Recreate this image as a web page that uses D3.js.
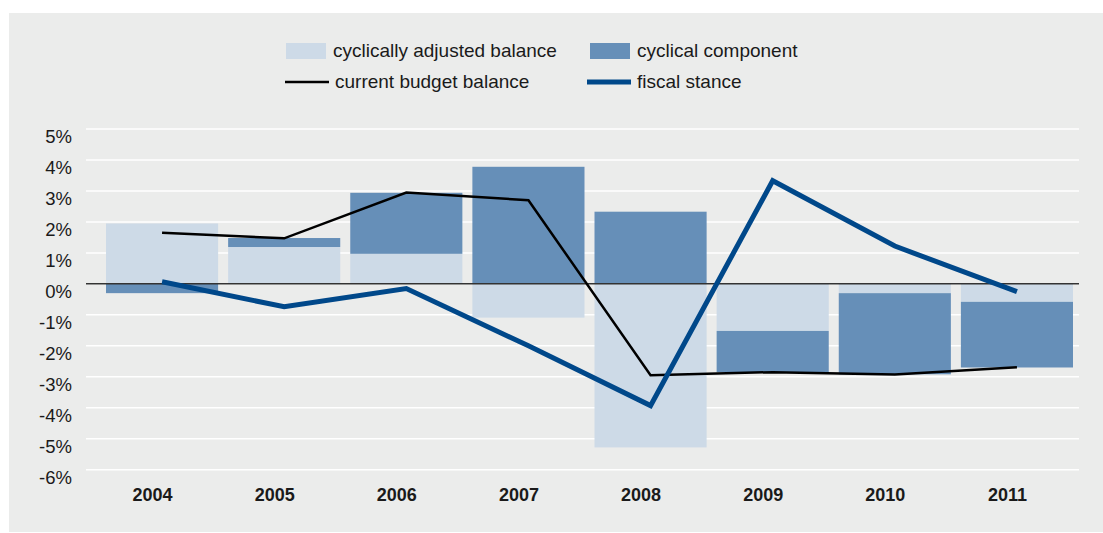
<!DOCTYPE html>
<html>
<head>
<meta charset="utf-8">
<script src="https://cdn.jsdelivr.net/npm/d3@7"></script>
<style>
  html, body { margin: 0; padding: 0; background: #ffffff; }
  svg { display: block; }
  text { font-family: "Liberation Sans", Arial, Helvetica, sans-serif; fill: #1a1a1a; }
</style>
</head>
<body>
<svg id="chart" width="1103" height="533"></svg>
<script>
// Budget balance decomposition, % of GDP
const years = ["2004", "2005", "2006", "2007", "2008", "2009", "2010", "2011"];
const cyclicallyAdjusted = [1.95, 1.19, 0.97, -1.09, -5.28, -1.52, -0.30, -0.58];
const cyclicalComponent = [-0.30, 0.29, 1.97, 3.78, 2.33, -1.33, -2.62, -2.12];
const currentBudget = [1.65, 1.47, 2.95, 2.70, -2.95, -2.85, -2.93, -2.69];
const fiscalStance = [0.07, -0.74, -0.15, -2.00, -3.93, 3.33, 1.22, -0.25];
const yTicks = [5, 4, 3, 2, 1, 0, -1, -2, -3, -4, -5, -6];

const colors = {
  panel: "#ebeceb",
  cab: "#cddae7",
  cc: "#668fb8",
  cbb: "#000000",
  fiscal: "#00488a",
  zero: "#333333"
};

const svg = d3.select("#chart");

// grey panel
svg.append("rect")
  .attr("x", 9).attr("y", 13)
  .attr("width", 1094).attr("height", 519)
  .attr("fill", colors.panel);

const x = d3.scaleBand()
  .domain(years)
  .range([101, 1078])
  .paddingInner(0.082)
  .paddingOuter(0.041);

const y = d3.scaleLinear()
  .domain([-6, 5])
  .range([469.7, 129]);

const gridX0 = 86, gridX1 = 1079;

// horizontal grid
svg.append("g")
  .selectAll("line")
  .data(yTicks)
  .join("line")
  .attr("x1", gridX0).attr("x2", gridX1)
  .attr("y1", d => y(d)).attr("y2", d => y(d))
  .attr("stroke", "#ffffff")
  .attr("stroke-width", 1.5);

// y axis labels
const yAxis = d3.axisLeft(y)
  .tickValues(yTicks)
  .tickSize(0)
  .tickPadding(0)
  .tickFormat(d => d + "%");
const gy = svg.append("g")
  .attr("transform", "translate(72,0)")
  .call(yAxis);
gy.select(".domain").remove();
gy.selectAll("text")
  .attr("dy", null)
  .attr("y", 13.6)
  .style("font-size", "18.5px")
  .style("font-family", "\"Liberation Sans\", Arial, sans-serif")
  .attr("fill", "#1a1a1a");

// x axis labels
const xAxis = d3.axisBottom(x).tickSize(0).tickPadding(0);
const gx = svg.append("g")
  .attr("transform", "translate(-9.5,501)")
  .call(xAxis);
gx.select(".domain").remove();
gx.selectAll("text")
  .attr("dy", null)
  .attr("y", 0)
  .style("font-size", "18px")
  .style("font-weight", "bold")
  .style("font-family", "\"Liberation Sans\", Arial, sans-serif")
  .attr("fill", "#111111");

// stacked bars
const rows = years.map((yr, i) => ({
  year: yr,
  cab: cyclicallyAdjusted[i],
  cc: cyclicalComponent[i]
}));
const stack = d3.stack()
  .keys(["cab", "cc"])
  .offset(d3.stackOffsetDiverging);
const series = stack(rows);

svg.append("g")
  .selectAll("g")
  .data(series)
  .join("g")
  .attr("fill", d => colors[d.key])
  .selectAll("rect")
  .data(d => d)
  .join("rect")
  .attr("x", d => x(d.data.year))
  .attr("width", x.bandwidth())
  .attr("y", d => y(Math.max(d[0], d[1])))
  .attr("height", d => Math.abs(y(d[0]) - y(d[1])));

// zero line
svg.append("line")
  .attr("x1", gridX0).attr("x2", gridX1)
  .attr("y1", y(0)).attr("y2", y(0))
  .attr("stroke", colors.zero)
  .attr("stroke-width", 1.5);

const cx = yr => x(yr) + x.bandwidth() / 2;

// current budget balance
svg.append("path")
  .datum(currentBudget)
  .attr("fill", "none")
  .attr("stroke", colors.cbb)
  .attr("stroke-width", 2.5)
  .attr("d", d3.line().x((d, i) => cx(years[i])).y(d => y(d)));

// fiscal stance
svg.append("path")
  .datum(fiscalStance)
  .attr("fill", "none")
  .attr("stroke", colors.fiscal)
  .attr("stroke-width", 5)
  .attr("d", d3.line().x((d, i) => cx(years[i])).y(d => y(d)));

// legend
const legend = svg.append("g").style("font-size", "19px");
const swatches = [
  { label: "cyclically adjusted balance", color: colors.cab, x: 286, type: "rect" },
  { label: "cyclical component", color: colors.cc, x: 590, type: "rect" },
  { label: "current budget balance", color: colors.cbb, x: 285, type: "line", w: 2.5 },
  { label: "fiscal stance", color: colors.fiscal, x: 587, type: "line", w: 5 }
];
swatches.forEach(s => {
  if (s.type === "rect") {
    legend.append("rect")
      .attr("x", s.x).attr("y", 43)
      .attr("width", 40).attr("height", 16)
      .attr("fill", s.color);
    legend.append("text")
      .attr("x", s.x + 47).attr("y", 56.5)
      .text(s.label);
  } else {
    legend.append("line")
      .attr("x1", s.x).attr("x2", s.x + 44)
      .attr("y1", 82).attr("y2", 82)
      .attr("stroke", s.color)
      .attr("stroke-width", s.w);
    legend.append("text")
      .attr("x", s.x + 50).attr("y", 87.5)
      .text(s.label);
  }
});
</script>
</body>
</html>
